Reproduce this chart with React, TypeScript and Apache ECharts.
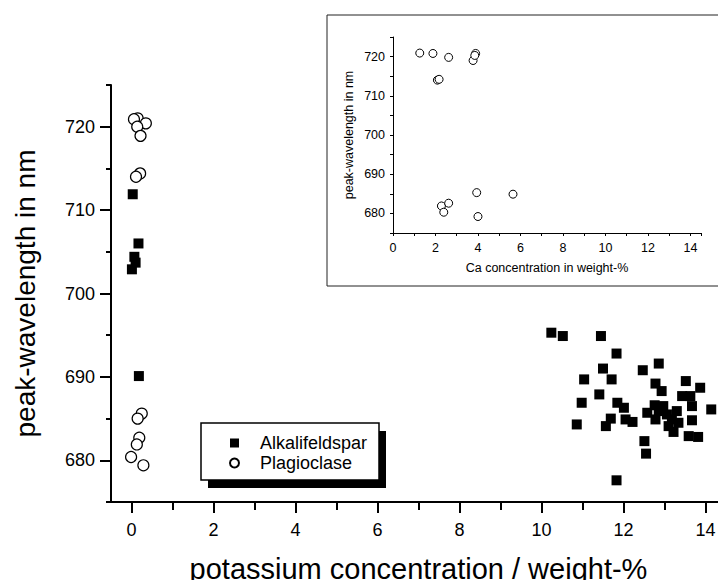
import React, { useEffect, useRef } from "react";
import * as echarts from "echarts";

// Main plot: Alkalifeldspar (filled squares), potassium concentration vs peak wavelength
const alkaliK = [
  0.03, 0.17, 0.07, 0.1, 0.01, 0.18,
  10.24, 10.52, 11.45, 11.83, 12.86, 12.47, 11.5, 11.04, 11.71, 13.52,
  12.78, 13.87, 12.93, 11.41, 13.43, 13.63, 10.98, 11.85, 12.01, 12.76,
  13.67, 14.14, 12.86, 12.58, 13.06, 13.3, 13.18, 12.78, 13.67, 12.22,
  13.1, 13.34, 13.22, 13.59, 13.82, 12.51, 12.55, 11.69, 12.05, 10.86,
  11.57, 11.83, 12.97,
];
const alkaliPeak = [
  711.9, 706.0, 704.4, 703.7, 702.9, 690.1,
  695.3, 694.9, 694.9, 692.8, 691.6, 690.8, 691.0, 689.7, 689.7, 689.5,
  689.2, 688.7, 688.3, 687.9, 687.7, 687.7, 686.9, 686.9, 686.3, 686.6,
  686.5, 686.1, 685.9, 685.7, 685.5, 685.9, 684.9, 684.9, 684.8, 684.6,
  684.1, 684.5, 683.4, 682.9, 682.8, 682.3, 680.8, 685.0, 684.9, 684.3,
  684.1, 677.6, 686.5,
];

// Main plot: Plagioclase (open circles)
const plagK = [0.15, 0.06, 0.35, 0.14, 0.22, 0.21, 0.11, 0.25, 0.15, 0.19, 0.13, -0.01, 0.29];
const plagPeak = [721.0, 720.9, 720.4, 720.0, 718.9, 714.4, 714.0, 685.6, 685.0, 682.7, 681.9, 680.4, 679.4];

// Inset: Plagioclase, Ca concentration vs peak wavelength
const plagCa = [1.26, 1.88, 2.62, 2.09, 2.17, 3.89, 3.77, 3.85, 3.94, 5.65, 2.28, 2.62, 2.39, 4.0];
const plagCaPeak = [720.9, 720.8, 719.8, 714.0, 714.2, 720.8, 719.0, 720.3, 685.3, 684.9, 681.9, 682.6, 680.3, 679.2];

// Tick values
const mainXLabels = [0, 2, 4, 6, 8, 10, 12, 14];
const mainXMinor = [1, 3, 5, 7, 9, 11, 13];
const mainYLabels = [680, 690, 700, 710, 720];
const mainYMinor = [675, 685, 695, 705, 715, 725];
const insetXLabels = [0, 2, 4, 6, 8, 10, 12, 14];
const insetYLabels = [680, 690, 700, 710, 720];

const FONT = "'Liberation Sans', Arial, Helvetica, sans-serif";

export default function App() {
  const ref = useRef<HTMLDivElement>(null);

  useEffect(() => {
    if (!ref.current) return;
    const chart = echarts.init(ref.current, null, { renderer: "svg" });

    const alkaliData = alkaliK.map((x, i) => [x, alkaliPeak[i]]);
    const plagData = plagK.map((x, i) => [x, plagPeak[i]]);
    const insetData = plagCa.map((x, i) => [x, plagCaPeak[i]]);

    const black = "#000";

    const option: any = {
      animation: false,
      backgroundColor: "#fff",
      grid: [
        { left: 111, top: 85, width: 620, height: 420, containLabel: false },
        { left: 393, top: 37, width: 308, height: 196, containLabel: false },
      ],
      xAxis: [
        {
          gridIndex: 0,
          type: "value",
          min: -0.5,
          max: 14.5,
          axisLine: { show: true, onZero: false, lineStyle: { color: black, width: 2 } },
          axisTick: { show: true, customValues: mainXMinor, length: 8, lineStyle: { color: black, width: 2 } },
          axisLabel: {
            show: true,
            customValues: mainXLabels,
            margin: 19,
            fontSize: 18,
            color: black,
            fontFamily: FONT,
          },
          splitLine: { show: false },
          name: "potassium concentration / weight-%",
          nameLocation: "middle",
          nameGap: 52,
          nameTextStyle: { fontSize: 29, color: black, fontFamily: FONT },
        },
        {
          gridIndex: 0,
          type: "value",
          position: "bottom",
          min: -0.5,
          max: 14.5,
          axisLine: { show: false, onZero: false },
          axisTick: { show: true, customValues: mainXLabels, length: 11, lineStyle: { color: black, width: 2 } },
          axisLabel: { show: false },
          splitLine: { show: false },
        },
        {
          gridIndex: 1,
          type: "value",
          min: 0,
          max: 14.5,
          interval: 1,
          z: 3,
          axisLine: { show: true, onZero: false, lineStyle: { color: black, width: 1 } },
          axisTick: { show: true, length: 3, lineStyle: { color: black, width: 1 } },
          axisLabel: {
            show: true,
            customValues: insetXLabels,
            margin: 8,
            fontSize: 12.5,
            color: black,
            fontFamily: FONT,
          },
          splitLine: { show: false },
          name: "Ca concentration in weight-%",
          nameLocation: "middle",
          nameGap: 28,
          nameTextStyle: { fontSize: 12.5, color: black, fontFamily: FONT },
        },
      ],
      yAxis: [
        {
          gridIndex: 0,
          type: "value",
          min: 675,
          max: 725,
          axisLine: { show: true, onZero: false, lineStyle: { color: black, width: 2 } },
          axisTick: { show: true, customValues: mainYMinor, length: 5, lineStyle: { color: black, width: 2 } },
          axisLabel: {
            show: true,
            customValues: mainYLabels,
            margin: 16,
            fontSize: 18,
            color: black,
            fontFamily: FONT,
          },
          splitLine: { show: false },
          name: "peak-wavelength in nm",
          nameLocation: "middle",
          nameGap: 72,
          nameTextStyle: { fontSize: 28, color: black, fontFamily: FONT },
        },
        {
          gridIndex: 0,
          type: "value",
          position: "left",
          min: 675,
          max: 725,
          axisLine: { show: false, onZero: false },
          axisTick: { show: true, customValues: mainYLabels, length: 11, lineStyle: { color: black, width: 2 } },
          axisLabel: { show: false },
          splitLine: { show: false },
        },
        {
          gridIndex: 1,
          type: "value",
          min: 675,
          max: 725,
          interval: 5,
          z: 3,
          axisLine: { show: true, onZero: false, lineStyle: { color: black, width: 1 } },
          axisTick: { show: true, length: 3, lineStyle: { color: black, width: 1 } },
          axisLabel: {
            show: true,
            customValues: insetYLabels,
            margin: 8,
            fontSize: 12.5,
            color: black,
            fontFamily: FONT,
          },
          splitLine: { show: false },
          name: "peak-wavelength in nm",
          nameLocation: "middle",
          nameGap: 38,
          nameTextStyle: { fontSize: 12.5, color: black, fontFamily: FONT },
        },
      ],
      legend: {
        show: true,
        orient: "vertical",
        left: 224,
        top: 429,
        z: 6,
        itemWidth: 9,
        itemHeight: 9,
        itemGap: 2,
        data: [
          { name: "Alkalifeldspar", icon: "rect" },
          { name: "Plagioclase", icon: "circle" },
        ],
        textStyle: { fontSize: 18, color: black, fontFamily: FONT, padding: [0, 0, 0, 16] },
      },
      graphic: [
        {
          type: "rect",
          z: 1,
          shape: { x: 327, y: 15, width: 395, height: 271 },
          style: { fill: "#fff", stroke: "#222", lineWidth: 1 },
        },
        {
          type: "rect",
          z: 1,
          shape: { x: 208, y: 431, width: 178, height: 57 },
          style: { fill: "#000" },
        },
        {
          type: "rect",
          z: 1,
          shape: { x: 201, y: 423, width: 178, height: 57 },
          style: { fill: "#fff", stroke: "#000", lineWidth: 1.5 },
        },
      ],
      series: [
        {
          name: "Alkalifeldspar",
          type: "scatter",
          xAxisIndex: 0,
          yAxisIndex: 0,
          symbol: "rect",
          symbolSize: 10,
          itemStyle: { color: black, opacity: 1 },
          data: alkaliData,
          z: 2,
        },
        {
          name: "Plagioclase",
          type: "scatter",
          xAxisIndex: 0,
          yAxisIndex: 0,
          symbol: "circle",
          symbolSize: 11,
          itemStyle: { color: "#fff", borderColor: black, borderWidth: 1.2, opacity: 1 },
          data: plagData,
          z: 2,
        },
        {
          name: "Plagioclase (Ca)",
          type: "scatter",
          xAxisIndex: 2,
          yAxisIndex: 2,
          symbol: "circle",
          symbolSize: 8,
          itemStyle: { color: "#fff", borderColor: black, borderWidth: 1, opacity: 1 },
          data: insetData,
          z: 4,
        },
      ],
    };

    chart.setOption(option);
    return () => {
      chart.dispose();
    };
  }, []);

  return <div ref={ref} style={{ width: 726, height: 588, margin: -8 }} />;
}
